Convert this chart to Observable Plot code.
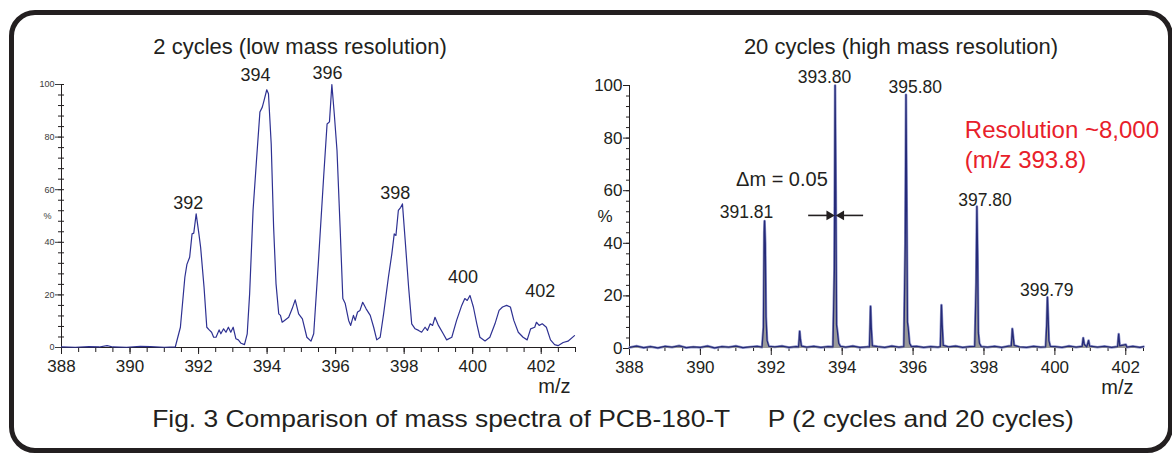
<!DOCTYPE html>
<html>
<head>
<meta charset="utf-8">
<script src="https://cdn.jsdelivr.net/npm/d3@7"></script>
<script src="https://cdn.jsdelivr.net/npm/@observablehq/plot@0.6"></script>
<style>
  html, body { margin: 0; padding: 0; background: #fff; }
  body { width: 1172px; height: 454px; position: relative; overflow: hidden;
         font-family: "Liberation Sans", Arial, Helvetica, sans-serif; color: #231f20; }
  .frame { position: absolute; left: 9px; top: 10px; width: 1164px; height: 443px;
           box-sizing: border-box; border: 5px solid #231f20; border-radius: 26px; }
  .title { position: absolute; top: 36px; font-size: 22px; line-height: 1; white-space: nowrap;
           transform: translateX(-50%); }
  .caption { position: absolute; top: 407px; left: 613px; transform: translateX(-50%) scaleX(1.1);
             font-size: 24px; line-height: 1; white-space: nowrap; }
  .gap { display: inline-block; width: 34px; }
  .panel { position: absolute; top: 0; }
</style>
</head>
<body>
<div class="frame"></div>
<div class="title" style="left:300px">2 cycles (low mass resolution)</div>
<div class="title" style="left:901px">20 cycles (high mass resolution)</div>
<div class="caption">Fig. 3 Comparison of mass spectra of PCB-180-T<span class="gap"></span>P (2 cycles and 20 cycles)</div>
<div id="left" class="panel" style="left:0px"></div>
<div id="right" class="panel" style="left:590px"></div>
<script>
// ---------- data ----------
// Low-resolution (2 cycles) trace: m/z and relative intensity (%)
const lowMz = [388.0, 388.4, 388.8, 389.1, 389.33, 389.5, 389.9, 390.3, 390.6, 391.0, 391.32,
  391.47, 391.6, 391.66, 391.74, 391.81, 391.86, 391.93, 392.01, 392.06, 392.16, 392.24, 392.31,
  392.38, 392.44, 392.51, 392.6, 392.65, 392.73, 392.8, 392.87, 392.94, 393.01, 393.09, 393.16,
  393.24, 393.34, 393.42, 393.49, 393.59, 393.69, 393.79, 393.86, 393.91, 393.99, 394.04, 394.12,
  394.19, 394.26, 394.34, 394.39, 394.44, 394.51, 394.63, 394.73, 394.82, 394.92, 395.03, 395.16,
  395.28, 395.36, 395.5, 395.65, 395.75, 395.82, 395.89, 395.96, 396.04, 396.13, 396.21, 396.28,
  396.38, 396.44, 396.52, 396.57, 396.64, 396.71, 396.79, 396.89, 397.01, 397.11, 397.2, 397.3,
  397.4, 397.54, 397.64, 397.71, 397.76, 397.83, 397.9, 397.95, 398.03, 398.13, 398.22, 398.32,
  398.42, 398.51, 398.61, 398.68, 398.76, 398.83, 398.9, 399.0, 399.14, 399.24, 399.39, 399.53,
  399.68, 399.77, 399.84, 399.92, 400.02, 400.12, 400.21, 400.36, 400.5, 400.65, 400.77, 400.87,
  400.99, 401.1, 401.2, 401.33, 401.47, 401.59, 401.69, 401.81, 401.86, 401.94, 402.03, 402.15,
  402.27, 402.39, 402.49, 402.64, 402.78, 402.97];
const lowPct = [0.2, 0.1, 0.3, 0.2, 0.7, 0.2, 0.1, 0.4, 0.3, 0.1, 0.2,
  7.7, 26.7, 31.6, 34.3, 43.2, 43.5, 50.8, 43.2, 38.1, 22.9, 7.7, 6.7,
  5.8, 3.9, 3.9, 6.7, 5.2, 7.1, 5.8, 7.7, 5.8, 7.7, 3.3, 2.9,
  1.6, 1.1, 5.2, 20.4, 52.1, 71.1, 89.5, 91.4, 93.9, 98.0, 96.5, 77.4,
  45.8, 24.3, 12.8, 12.2, 9.6, 10.3, 11.5, 14.7, 18.1, 12.8, 10.9, 3.9,
  2.4, 5.2, 33.1, 64.8, 85.0, 85.8, 100, 88.9, 74.9, 45.8, 18.6, 16.7,
  10.3, 8.4, 12.2, 10.3, 13.5, 14.1, 17.2, 14.7, 12.2, 7.7, 2.9, 3.9,
  12.8, 26.7, 35.6, 43.2, 42.6, 52.1, 53.3, 54.6, 40.7, 22.9, 9.0, 7.1,
  6.5, 5.8, 7.7, 6.5, 9.0, 8.4, 11.5, 8.4, 5.2, 2.9, 3.9, 10.3,
  16.0, 18.6, 17.9, 19.8, 15.4, 9.0, 3.9, 2.5, 3.9, 9.0, 14.1, 15.4,
  16.0, 15.4, 10.3, 5.8, 3.9, 2.9, 7.1, 7.7, 9.6, 8.4, 9.0, 7.7,
  2.9, 1.1, 0.7, 1.9, 2.4, 4.5];
const lowLabels = ["392", "394", "396", "398", "400", "402"];
const lowLabelMz = [391.70, 393.66, 395.76, 397.74, 399.72, 401.97];
const lowLabelPct = [54.8, 103.4, 104.2, 58.6, 26.6, 21.3];

// High-resolution (20 cycles) trace
const highMz = [388.0, 388.2, 388.4, 388.6, 388.8, 389.0, 389.2, 389.4, 389.6, 389.8, 390.0,
  390.2, 390.4, 390.6, 390.8, 391.0, 391.2, 391.4, 391.6,
  391.74, 391.78, 391.80, 391.81, 391.83, 391.85, 391.88, 391.93,
  392.1, 392.3, 392.5, 392.7, 392.77, 392.79, 392.80, 392.82, 392.85,
  393.0, 393.2, 393.4, 393.6, 393.74, 393.78, 393.80, 393.82, 393.84, 393.86, 393.9, 393.95,
  394.1, 394.3, 394.5, 394.7, 394.77, 394.79, 394.80, 394.82, 394.85,
  395.0, 395.2, 395.4, 395.6, 395.74, 395.78, 395.80, 395.82, 395.84, 395.86, 395.9, 395.95,
  396.1, 396.3, 396.5, 396.7, 396.77, 396.79, 396.80, 396.82, 396.85,
  397.0, 397.2, 397.4, 397.6, 397.74, 397.78, 397.80, 397.82, 397.84, 397.87, 397.92,
  398.1, 398.3, 398.5, 398.7, 398.77, 398.79, 398.80, 398.82, 398.85,
  399.0, 399.2, 399.4, 399.6, 399.74, 399.77, 399.79, 399.81, 399.83, 399.87,
  400.0, 400.2, 400.4, 400.6, 400.77, 400.80, 400.83, 400.9, 400.95, 400.98,
  401.2, 401.4, 401.6, 401.77, 401.80, 401.83, 402.0, 402.03, 402.2, 402.4, 402.5];
const highPct = [0.4, 0.9, 0.3, 0.7, 0.2, 0.8, 0.5, 1.0, 0.3, 0.6, 0.4,
  0.9, 0.2, 0.7, 0.5, 0.9, 0.3, 0.6, 0.8,
  0.5, 8, 44, 48.5, 40, 12, 3, 0.8,
  0.6, 0.9, 0.4, 0.7, 0.6, 4, 6.5, 3.5, 0.9,
  0.5, 0.8, 0.4, 0.7, 0.6, 30, 100, 60, 9, 7, 2, 0.8,
  0.5, 0.9, 0.4, 0.6, 0.6, 10, 16, 8, 1,
  0.7, 0.4, 0.9, 0.5, 0.7, 40, 96.5, 55, 10, 8, 2, 0.7,
  0.8, 0.4, 0.7, 0.5, 0.7, 11, 16.5, 9, 1.2,
  0.6, 0.9, 0.4, 0.7, 0.8, 25, 54, 35, 6, 2, 0.7,
  0.5, 0.8, 0.4, 0.9, 1, 5, 7.5, 5, 1.2,
  0.6, 0.4, 0.8, 0.5, 0.6, 9, 19.5, 12, 3, 0.8,
  0.7, 0.4, 0.9, 0.5, 0.8, 4, 1.5, 0.6, 3, 0.9,
  0.5, 0.8, 0.4, 0.7, 5.5, 1, 1.5, 0.5, 0.8, 0.4, 0.7];
const highLabels = ["391.81", "393.80", "395.80", "397.80", "399.79"];
const highLabelMz = [391.30, 393.50, 396.06, 398.03, 399.77];
const highLabelPct = [51.7, 103, 99.2, 56.3, 22.1];
const resolutionText = ["Resolution ~8,000", "(m/z 393.8)"];
const resolutionMz = [397.46, 397.46];
const resolutionPct = [82.9, 71.5];
const deltaText = "\u0394m = 0.05";
const deltaMz = 392.30, deltaPct = 64.3;
const arrowFrom = [393.04, 394.59];
const arrowTo = [393.72, 393.89];
const arrowPct = 50.6;

// ticks
const xMajor = [388, 390, 392, 394, 396, 398, 400, 402];
const xMinorLow = d3.range(388, 403.01, 0.5);
const xMinorHigh = d3.range(388, 402.51, 0.5);
const yMajor = [0, 20, 40, 60, 80, 100];
const yMinor = d3.range(0, 100.1, 4);

// ---------- build tables ----------
const lowData = lowMz.map((m, i) => ({mz: m, pct: lowPct[i]}));
const highData = highMz.map((m, i) => ({mz: m, pct: highPct[i]}));
const lowLab = lowLabels.map((t, i) => ({t, mz: lowLabelMz[i], pct: lowLabelPct[i]}));
const highLab = highLabels.map((t, i) => ({t, mz: highLabelMz[i], pct: highLabelPct[i]}));
const resLab = resolutionText.map((t, i) => ({t, mz: resolutionMz[i], pct: resolutionPct[i]}));
const arrows = arrowFrom.map((a, i) => ({x1: a, x2: arrowTo[i], y: arrowPct, dir: a < arrowTo[i] ? 1 : -1}));
const arrowsRight = arrows.filter(d => d.dir > 0);
const arrowsLeft = arrows.filter(d => d.dir < 0);

const ink = "#231f20";
const font = "'Liberation Sans', Arial, Helvetica, sans-serif";

const leftPlot = Plot.plot({
  width: 590, height: 400,
  marginLeft: 61, marginRight: 15, marginTop: 84, marginBottom: 53,
  x: {domain: [388, 403]},
  y: {domain: [0, 100]},
  style: {fontFamily: font, fontSize: "17px", color: ink, background: "transparent", overflow: "visible"},
  marks: [
    Plot.axisY({ticks: yMinor, tickSize: 6, dx: 3, tickFormat: () => "", label: null, color: ink}),
    Plot.axisY({ticks: yMajor, tickSize: 6, tickPadding: 1, fontSize: 9, label: null, color: "#3a3a3a"}),
    Plot.axisX({ticks: xMinorLow, tickSize: 5, tickFormat: () => "", label: null, color: ink}),
    Plot.axisX({ticks: xMajor, tickSize: 7, tickPadding: 5, fontSize: 17, label: null, color: ink, tickFormat: d => String(d)}),
    Plot.ruleY([0], {stroke: ink}),
    Plot.ruleX([388], {stroke: ink}),
    Plot.line(lowData, {x: "mz", y: "pct", stroke: "#2e3192", strokeWidth: 1.2}),
    Plot.text(lowLab, {x: "mz", y: "pct", text: "t", fontSize: 18, fill: ink}),
    Plot.text(["%"], {frameAnchor: "left", y: [49.8], dx: -18, fontSize: 9, fill: "#3a3a3a"}),
    Plot.text(["m/z"], {frameAnchor: "bottom-right", textAnchor: "end", dx: -5, dy: 45, fontSize: 20, fill: ink})
  ]
});
document.getElementById("left").append(leftPlot);

const rightPlot = Plot.plot({
  width: 582, height: 400,
  marginLeft: 39, marginRight: 29, marginTop: 85, marginBottom: 52,
  x: {domain: [388, 402.5]},
  y: {domain: [0, 100]},
  style: {fontFamily: font, fontSize: "17px", color: ink, background: "transparent", overflow: "visible"},
  marks: [
    Plot.axisY({ticks: yMinor, tickSize: 3, tickFormat: () => "", label: null, color: ink}),
    Plot.axisY({ticks: yMajor, tickSize: 6, tickPadding: 1, fontSize: 17, label: null, color: ink}),
    Plot.axisX({ticks: xMinorHigh, tickSize: 3, tickFormat: () => "", label: null, color: ink}),
    Plot.axisX({ticks: xMajor, tickSize: 7, tickPadding: 5, fontSize: 17, label: null, color: ink, tickFormat: d => String(d)}),
    Plot.ruleX([388], {stroke: ink}),
    Plot.line(highData, {x: "mz", y: "pct", stroke: "#8f95cc", strokeWidth: 2.6}),
    Plot.areaY(highData, {x: "mz", y: "pct", fill: "#9a9a9a"}),
    Plot.line(highData, {x: "mz", y: "pct", stroke: "#252a78", strokeWidth: 1.3}),
    Plot.text(highLab, {x: "mz", y: "pct", text: "t", fontSize: 17.5, fill: ink}),
    Plot.text([deltaText], {x: [deltaMz], y: [deltaPct], fontSize: 20, fill: ink}),
    Plot.link(arrows, {x1: "x1", x2: "x2", y1: "y", y2: "y", stroke: ink, strokeWidth: 1.6}),
    Plot.dot(arrowsRight, {x: "x2", y: "y", symbol: "triangle", r: 3.6, fill: ink, stroke: "none", rotate: 90, dx: -3}),
    Plot.dot(arrowsLeft, {x: "x2", y: "y", symbol: "triangle", r: 3.6, fill: ink, stroke: "none", rotate: -90, dx: 3}),
    Plot.text(resLab, {x: "mz", y: "pct", text: "t", textAnchor: "start", fontSize: 24, fill: "#e8202a"}),
    Plot.text(["%"], {frameAnchor: "left", y: [50], dx: -32, fontSize: 17, fill: ink}),
    Plot.text(["m/z"], {frameAnchor: "bottom-right", textAnchor: "end", dx: -10, dy: 45, fontSize: 20, fill: ink})
  ]
});
document.getElementById("right").append(rightPlot);
</script>
</body>
</html>
